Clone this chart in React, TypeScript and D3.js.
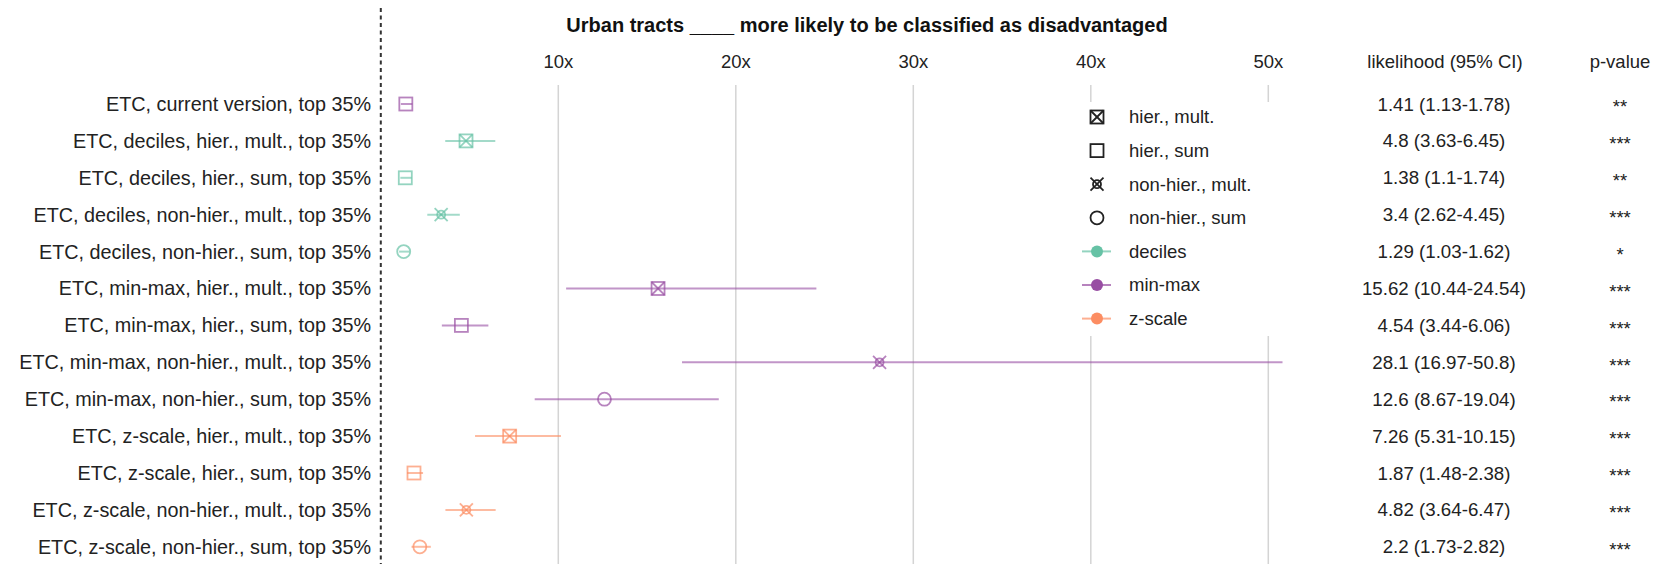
import React from "react";
import * as d3 from "d3";

// Index variants compared against the current ETC
const labels = [
  "ETC, current version, top 35%",
  "ETC, deciles, hier., mult., top 35%",
  "ETC, deciles, hier., sum, top 35%",
  "ETC, deciles, non-hier., mult., top 35%",
  "ETC, deciles, non-hier., sum, top 35%",
  "ETC, min-max, hier., mult., top 35%",
  "ETC, min-max, hier., sum, top 35%",
  "ETC, min-max, non-hier., mult., top 35%",
  "ETC, min-max, non-hier., sum, top 35%",
  "ETC, z-scale, hier., mult., top 35%",
  "ETC, z-scale, hier., sum, top 35%",
  "ETC, z-scale, non-hier., mult., top 35%",
  "ETC, z-scale, non-hier., sum, top 35%",
];
const scaling = [
  "min-max", "deciles", "deciles", "deciles", "deciles",
  "min-max", "min-max", "min-max", "min-max",
  "z-scale", "z-scale", "z-scale", "z-scale",
];
const method = [
  "hier., sum", "hier., mult.", "hier., sum", "non-hier., mult.", "non-hier., sum",
  "hier., mult.", "hier., sum", "non-hier., mult.", "non-hier., sum",
  "hier., mult.", "hier., sum", "non-hier., mult.", "non-hier., sum",
];
const estimate = [1.41, 4.8, 1.38, 3.4, 1.29, 15.62, 4.54, 28.1, 12.6, 7.26, 1.87, 4.82, 2.2];
const lower = [1.13, 3.63, 1.1, 2.62, 1.03, 10.44, 3.44, 16.97, 8.67, 5.31, 1.48, 3.64, 1.73];
const upper = [1.78, 6.45, 1.74, 4.45, 1.62, 24.54, 6.06, 50.8, 19.04, 10.15, 2.38, 6.47, 2.82];
const pValue = ["**", "***", "**", "***", "*", "***", "***", "***", "***", "***", "***", "***", "***"];
const xTicks = [10, 20, 30, 40, 50];
const methodKeys = ["hier., mult.", "hier., sum", "non-hier., mult.", "non-hier., sum"];
const scalingKeys = ["deciles", "min-max", "z-scale"];
const scalingColors = ["#66c2a5", "#984ea3", "#fc8d62"];

const W = 1663;
const H = 564;
const FONT = "'Liberation Sans', Arial, sans-serif";

function Marker({ kind, cx, cy, color, opacity, sw }: { kind: string; cx: number; cy: number; color: string; opacity: number; sw: number }) {
  const s = 6.5;
  const common = { fill: "none", stroke: color, strokeWidth: sw, strokeOpacity: opacity };
  if (kind === "hier., mult.") {
    return (
      <g {...common}>
        <rect x={cx - s} y={cy - s} width={2 * s} height={2 * s} />
        <line x1={cx - s} y1={cy - s} x2={cx + s} y2={cy + s} />
        <line x1={cx - s} y1={cy + s} x2={cx + s} y2={cy - s} />
      </g>
    );
  }
  if (kind === "hier., sum") {
    return <rect {...common} x={cx - s} y={cy - s} width={2 * s} height={2 * s} />;
  }
  if (kind === "non-hier., mult.") {
    return (
      <g {...common}>
        <circle cx={cx} cy={cy} r={4} />
        <line x1={cx - s} y1={cy - s} x2={cx + s} y2={cy + s} />
        <line x1={cx - s} y1={cy + s} x2={cx + s} y2={cy - s} />
      </g>
    );
  }
  return <circle {...common} cx={cx} cy={cy} r={s} />;
}

export default function App() {
  const x = d3.scaleLinear().domain([0, 50]).range([380.8, 1268.3]);
  const y = d3.scalePoint<number>().domain(d3.range(labels.length)).range([104, 546.8]);
  const color = d3.scaleOrdinal<string, string>().domain(scalingKeys).range(scalingColors);

  const legendX = 1097;
  const legendY0 = 117;
  const legendStep = 33.6;

  return (
    <svg width={W} height={H} style={{ position: "absolute", left: 0, top: 0, background: "#fff" }} fontFamily={FONT}>
      {/* vertical grid */}
      {xTicks.map((t) => (
        <g key={t}>
          <line x1={x(t)} x2={x(t)} y1={85} y2={H} stroke="#d4d4d4" strokeWidth={1.5} />
          <text x={x(t)} y={68} textAnchor="middle" fontSize={18.5} fill="#222">{`${t}x`}</text>
        </g>
      ))}

      {/* reference line */}
      <line x1={x(0)} x2={x(0)} y1={8} y2={H} stroke="#333" strokeWidth={2} strokeDasharray="4,3.5" />

      <text x={867} y={32} textAnchor="middle" fontSize={20} fontWeight="bold" fill="#111">
        Urban tracts ____ more likely to be classified as disadvantaged
      </text>

      {/* legend */}
      <rect x={1075} y={102} width={215} height={234} fill="#fff" />
      {methodKeys.map((k, i) => (
        <g key={k}>
          <Marker kind={k} cx={legendX} cy={legendY0 + i * legendStep} color="#222" opacity={1} sw={1.8} />
          <text x={1129} y={legendY0 + i * legendStep} dy="0.35em" fontSize={18.5} fill="#222">{k}</text>
        </g>
      ))}
      {scalingKeys.map((k, j) => {
        const cy = legendY0 + (4 + j) * legendStep;
        return (
          <g key={k}>
            <line x1={1082} x2={1111} y1={cy} y2={cy} stroke={color(k)} strokeOpacity={0.7} strokeWidth={2} />
            <circle cx={legendX} cy={cy} r={6} fill={color(k)} />
            <text x={1129} y={cy} dy="0.35em" fontSize={18.5} fill="#222">{k}</text>
          </g>
        );
      })}

      {/* rows */}
      {labels.map((lab, i) => {
        const cy = y(i)!;
        const c = color(scaling[i]);
        return (
          <g key={lab}>
            <text x={371} y={cy} dy="0.35em" textAnchor="end" fontSize={19.8} fill="#222">{lab}</text>
            <line x1={x(lower[i])} x2={x(upper[i])} y1={cy} y2={cy} stroke={c} strokeOpacity={0.6} strokeWidth={2} />
            <Marker kind={method[i]} cx={x(estimate[i])} cy={cy} color={c} opacity={0.7} sw={1.8} />
            <text x={1444} y={cy} dy="0.35em" textAnchor="middle" fontSize={18.7} fill="#222">
              {`${estimate[i]} (${lower[i]}-${upper[i]})`}
            </text>
            <text x={1620} y={cy} dy="0.5em" textAnchor="middle" fontSize={18.5} fill="#222">{pValue[i]}</text>
          </g>
        );
      })}

      <text x={1445} y={62} dy="0.35em" textAnchor="middle" fontSize={18.5} fill="#222">likelihood (95% CI)</text>
      <text x={1620} y={62} dy="0.35em" textAnchor="middle" fontSize={18.5} fill="#222">p-value</text>
    </svg>
  );
}
